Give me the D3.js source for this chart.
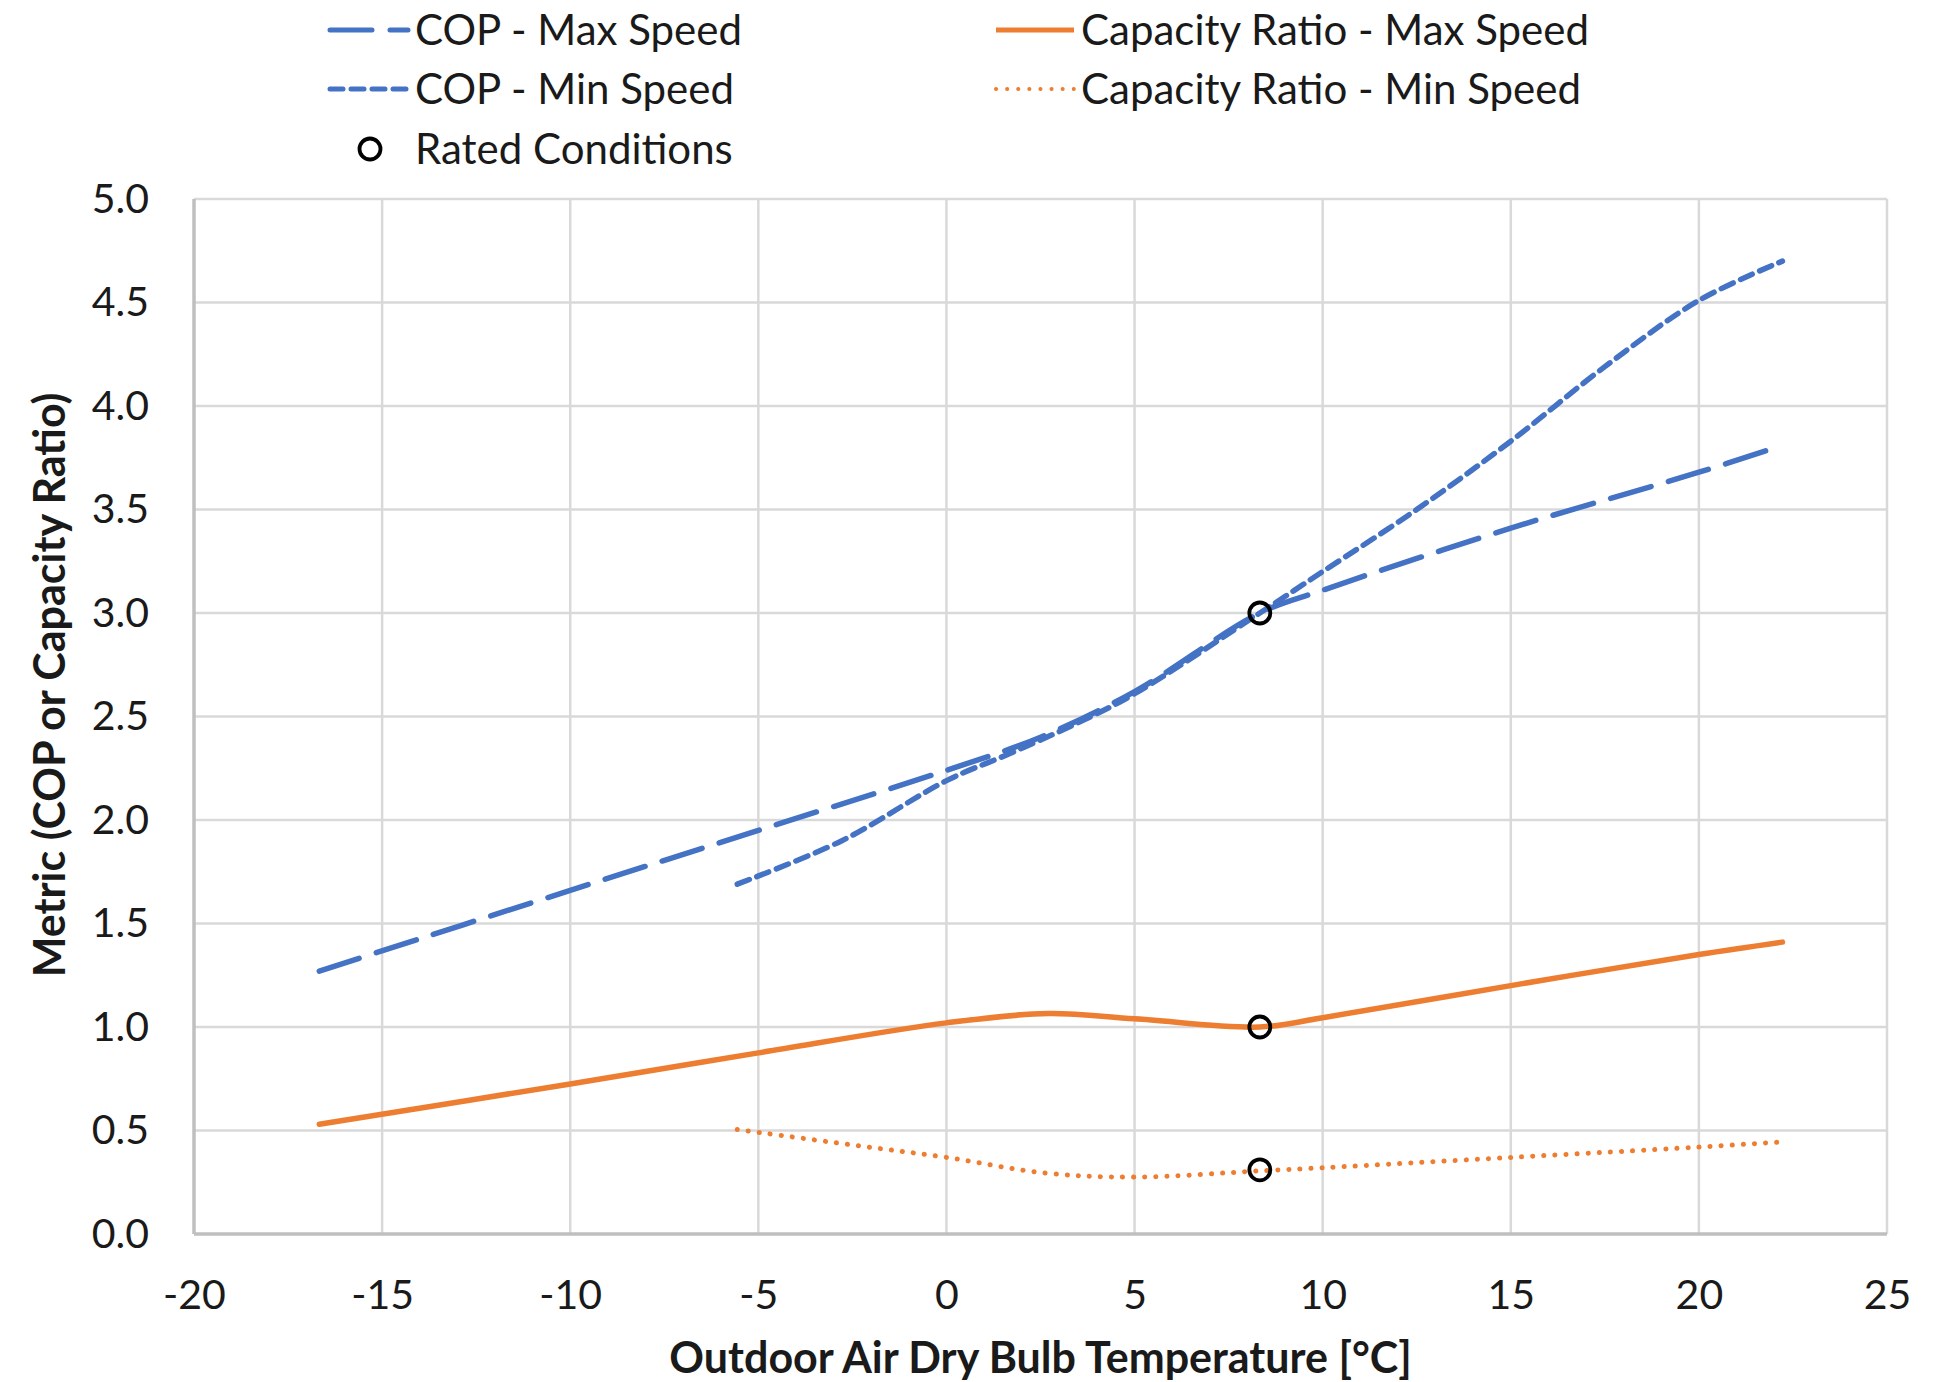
<!DOCTYPE html>
<html lang="en">
<head>
<meta charset="UTF-8">
<title>COP and Capacity Ratio vs Outdoor Temperature</title>
<script src="https://d3js.org/d3.v7.min.js"></script>
<style>
    body { margin: 0; background: #fff; }
    text { font-family: Lato, "Open Sans", sans-serif; fill: #1a1a1a; }
</style>
</head>
<body>
<div id="chart"></div>
<script>
    // temperatures in deg C
    const copMaxT = [-16.67, -10, -5, 0, 2.5, 5, 8.33, 10, 15, 20, 22.22];
    const copMaxV = [1.27, 1.66, 1.95, 2.24, 2.40, 2.62, 3.0, 3.11, 3.41, 3.68, 3.81];

    const copMinT = [-5.56, -2.78, 0, 1.67, 3.5, 5, 8.33, 10, 12.5, 15, 17.5, 20, 22.22];
    const copMinV = [1.69, 1.90, 2.19, 2.32, 2.47, 2.61, 3.0, 3.2, 3.5, 3.83, 4.19, 4.51, 4.70];

    const capMaxT = [-16.67, -10, -5, 0, 2.7, 5, 8.33, 10, 15, 20, 22.22];
    const capMaxV = [0.53, 0.725, 0.875, 1.02, 1.065, 1.04, 1.0, 1.045, 1.2, 1.35, 1.41];

    const capMinT = [-5.56, -2.5, 0, 2.6, 5, 8.33, 10, 15, 20, 22.22];
    const capMinV = [0.505, 0.43, 0.37, 0.295, 0.275, 0.305, 0.32, 0.37, 0.42, 0.445];

    const ratedT = [8.33, 8.33, 8.33];
    const ratedV = [3.0, 1.0, 0.31];

    const xTicks = [-20, -15, -10, -5, 0, 5, 10, 15, 20, 25];
    const yTicks = [0, 0.5, 1, 1.5, 2, 2.5, 3, 3.5, 4, 4.5, 5];

    const blue = "#4472c4";
    const orange = "#ed7d31";

    const width = 1948;
    const height = 1382;
    const margin = { left: 194, right: 61, top: 199, bottom: 148 };

    const svg = d3.select("#chart")
        .append("svg")
        .attr("width", width)
        .attr("height", height);

    const x = d3.scaleLinear().domain([-20, 25]).range([margin.left, width - margin.right]);
    const y = d3.scaleLinear().domain([0, 5]).range([height - margin.bottom, margin.top]);

    // gridlines
    svg.append("g")
        .selectAll("line.v")
        .data(xTicks.slice(1))
        .enter()
        .append("line")
        .attr("x1", d => x(d)).attr("x2", d => x(d))
        .attr("y1", y(5)).attr("y2", y(0))
        .attr("stroke", "#d9d9d9").attr("stroke-width", 2.5);

    svg.append("g")
        .selectAll("line.h")
        .data(yTicks.slice(1))
        .enter()
        .append("line")
        .attr("x1", x(-20)).attr("x2", x(25))
        .attr("y1", d => y(d)).attr("y2", d => y(d))
        .attr("stroke", "#d9d9d9").attr("stroke-width", 2.5);

    // axis lines
    svg.append("line")
        .attr("x1", x(-20)).attr("x2", x(-20)).attr("y1", y(5)).attr("y2", y(0))
        .attr("stroke", "#bfbfbf").attr("stroke-width", 3.5);
    svg.append("line")
        .attr("x1", x(-20)).attr("x2", x(25)).attr("y1", y(0)).attr("y2", y(0))
        .attr("stroke", "#bfbfbf").attr("stroke-width", 3.5);

    // tick labels through d3 axes, domain and tick marks hidden
    const xAxis = svg.append("g")
        .attr("transform", `translate(0,${y(0)})`)
        .call(d3.axisBottom(x).tickValues(xTicks).tickFormat(d => String(d)).tickSize(0).tickPadding(46));
    const yAxis = svg.append("g")
        .attr("transform", `translate(${x(-20)},0)`)
        .call(d3.axisLeft(y).tickValues(yTicks).tickFormat(d => d.toFixed(1)).tickSize(0).tickPadding(45));
    [xAxis, yAxis].forEach(g => {
        g.select(".domain").remove();
        g.selectAll("text").attr("font-size", 41).attr("fill", "#1a1a1a")
            .attr("font-family", "Lato, 'Open Sans', sans-serif");
    });

    // axis titles
    svg.append("text")
        .attr("x", x(2.5)).attr("y", 1373)
        .attr("text-anchor", "middle")
        .attr("font-size", 43).attr("font-weight", "bold")
        .text("Outdoor Air Dry Bulb Temperature [°C]");

    svg.append("text")
        .attr("transform", "translate(65,685) rotate(-90)")
        .attr("text-anchor", "middle")
        .attr("font-size", 43).attr("font-weight", "bold")
        .text("Metric (COP or Capacity Ratio)");

    const line = d3.line()
        .x(d => x(d[0]))
        .y(d => y(d[1]))
        .curve(d3.curveCatmullRom.alpha(0.5));

    const series = [
        { name: "COP - Max Speed", t: copMaxT, v: copMaxV, color: blue, dash: "42,18" },
        { name: "COP - Min Speed", t: copMinT, v: copMinV, color: blue, dash: "13,8" },
        { name: "Capacity Ratio - Max Speed", t: capMaxT, v: capMaxV, color: orange, dash: null },
        { name: "Capacity Ratio - Min Speed", t: capMinT, v: capMinV, color: orange, dash: "0.1,11" }
    ];

    series.forEach(s => {
        svg.append("path")
            .datum(d3.zip(s.t, s.v))
            .attr("fill", "none")
            .attr("stroke", s.color)
            .attr("stroke-width", s.dash === "0.1,11" ? 5 : 5.5)
            .attr("stroke-linecap", "round")
            .attr("stroke-dasharray", s.dash)
            .attr("d", line);
    });

    // rated conditions markers
    svg.append("g")
        .selectAll("circle")
        .data(d3.zip(ratedT, ratedV))
        .enter()
        .append("circle")
        .attr("cx", d => x(d[0]))
        .attr("cy", d => y(d[1]))
        .attr("r", 10.5)
        .attr("fill", "none")
        .attr("stroke", "#000")
        .attr("stroke-width", 3.8);

    // legend
    const legendItems = [
        { s: series[0], lx: 330, ly: 30 },
        { s: series[1], lx: 330, ly: 89 },
        { s: series[2], lx: 996, ly: 30 },
        { s: series[3], lx: 996, ly: 89 }
    ];
    legendItems.forEach(it => {
        svg.append("line")
            .attr("x1", it.lx).attr("x2", it.lx + 78)
            .attr("y1", it.ly).attr("y2", it.ly)
            .attr("stroke", it.s.color)
            .attr("stroke-width", it.s.dash === "0.1,11" ? 4 : 5)
            .attr("stroke-linecap", it.s.dash ? "round" : "butt")
            .attr("stroke-dasharray", it.s.dash);
        svg.append("text")
            .attr("x", it.lx + 85).attr("y", it.ly)
            .attr("dy", "0.35em")
            .attr("font-size", 42)
            .text(it.s.name);
    });
    svg.append("circle")
        .attr("cx", 370).attr("cy", 149).attr("r", 10.5)
        .attr("fill", "none").attr("stroke", "#000").attr("stroke-width", 3.8);
    svg.append("text")
        .attr("x", 415).attr("y", 149).attr("dy", "0.35em")
        .attr("font-size", 42)
        .text("Rated Conditions");
</script>
</body>
</html>
